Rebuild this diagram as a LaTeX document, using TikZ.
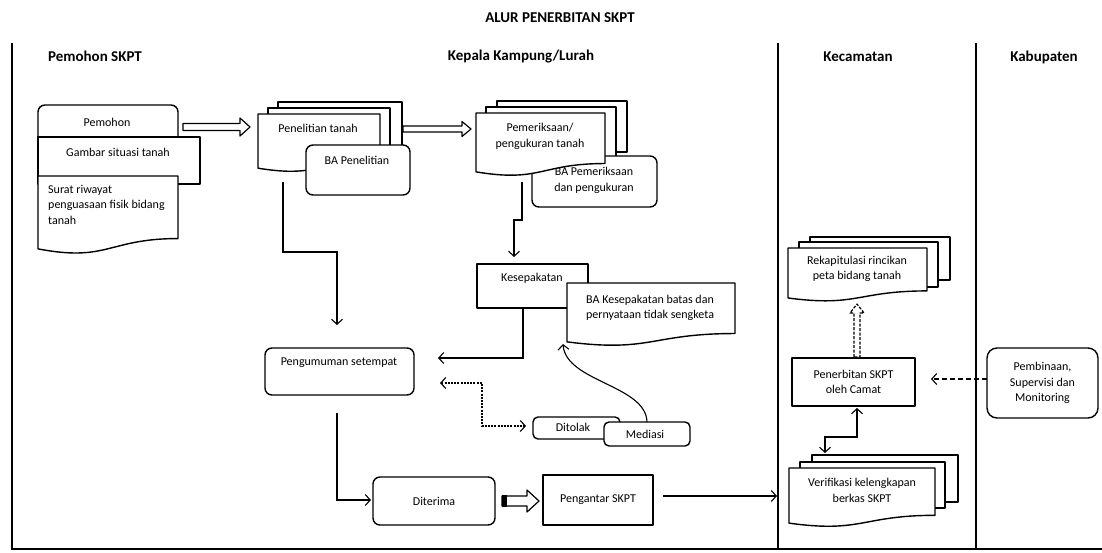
\documentclass[tikz,border=0pt]{standalone}
\usepackage{fontspec}
\setmainfont{Carlito}
\usetikzlibrary{arrows.meta,calc}
\newcommand\docshape[5]{%
  \draw[shp,#5] (#1,#2) -- (#3,#2) -- (#3,#2+0.802*#4)
    .. controls ({(#1+#3)/2},#2+0.802*#4) and ({(#1+#3)/2},#2+1.107*#4) .. (#1,#2+0.934*#4) -- cycle;}
\begin{document}
\begin{tikzpicture}[x=1pt,y=-1pt,
  every node/.style={font=\fontsize{12}{15.5}\selectfont, inner sep=0pt, align=center},
  hdr/.style={font=\fontsize{15}{18}\selectfont\bfseries},
  shp/.style={draw, line width=1.4pt, fill=white, line join=round},
  rbox/.style={shp, rounded corners=7pt},
  sbox/.style={shp},
  lane/.style={line width=1.3pt},
  conn/.style={line width=1.1pt, -{Straight Barb[length=5pt,width=11pt]}},
  bconn/.style={line width=1.1pt, {Straight Barb[length=5pt,width=11pt]}-{Straight Barb[length=5pt,width=11pt]}},
  blockR/.style args={#1/#2/#3}{to path={let \p1=(\tikztostart),\p2=(\tikztotarget) in
     (\x1,\y1+#1) -- (\x2-#3,\y1+#1) -- (\x2-#3,\y1+#2) -- (\x2,\y1) -- (\x2-#3,\y1-#2) -- (\x2-#3,\y1-#1) -- (\x1,\y1-#1) -- cycle}},
  blockU/.style args={#1/#2/#3}{to path={let \p1=(\tikztostart),\p2=(\tikztotarget) in
     (\x1-#1,\y1) -- (\x1-#1,\y2-#3) -- (\x1-#2,\y2-#3) -- (\x1,\y2) -- (\x1+#2,\y2-#3) -- (\x1+#1,\y2-#3) -- (\x1+#1,\y1) -- cycle}},
]
\useasboundingbox[fill=white] (0,0) rectangle (1102,552);

% frame and lanes
\draw[lane] (12,43) -- (12,549) -- (1102,549);
\draw[lane] (778,43) -- (778,549);
\draw[lane] (976,43) -- (976,549);

% titles
\node[hdr] (title) at (560,18) {ALUR PENERBITAN SKPT};
\node[hdr] (h1) at (95,56) {Pemohon SKPT};
\node[hdr] (h2) at (521,57) {Kepala Kampung/Lurah};
\node[hdr] (h3) at (858,57) {Kecamatan};
\node[hdr] (h4) at (1044,57) {Kabupaten};

% ---- Pemohon group
\node[rbox, minimum width=140pt, minimum height=71pt] (pemohonbox) at (108,140.5) {};
\node (pemohon) at (107,122) {Pemohon};
\node[sbox, minimum width=162pt, minimum height=47pt] (gambarbox) at (119,160.5) {};
\node (gambar) at (118,152) {Gambar situasi tanah};
\docshape{38}{176}{178}{78}{}
\node[anchor=north west, align=left] (surat) at (48,185) {Surat riwayat\\penguasaan fisik bidang\\tanah};

% ---- Penelitian
\draw[shp] (278,102) rectangle (402,158);
\draw[shp] (268,108) rectangle (390,163);
\docshape{258}{114}{380}{58}{}
\node (penelitian) at (318,128) {Penelitian tanah};
\node[rbox, minimum width=104pt, minimum height=50pt] (bapenbox) at (358,170) {};
\node (bapenelitian) at (357,160) {BA Penelitian};

% ---- Pemeriksaan
\draw[shp] (497,101) rectangle (627,152);
\draw[shp] (486,107) rectangle (616,158);
\node[rbox, minimum width=125pt, minimum height=51pt] (bapembox) at (594.5,181.5) {};
\node (bapemeriksaan) at (594,180.5) {BA Pemeriksaan\\dan pengukuran};
\docshape{476}{113}{605}{63}{}
\node (pemeriksaan) at (540,136.5) {Pemeriksaan/\\pengukuran tanah};

% ---- Kesepakatan
\node[sbox, minimum width=111pt, minimum height=44pt] (kesbox) at (532.5,286) {};
\node (kesepakatan) at (532,278) {Kesepakatan};
\docshape{567}{283}{735}{63}{}
\node (bakes) at (650,308) {BA Kesepakatan batas dan\\pernyataan tidak sengketa};

% ---- Pengumuman
\node[rbox, minimum width=149pt, minimum height=47pt] (pengbox) at (339.5,371.5) {};
\node (pengumuman) at (339,363) {Pengumuman setempat};

% ---- Ditolak / Mediasi
\node[rbox, rounded corners=5pt, minimum width=87pt, minimum height=22pt] (ditolakbox) at (576.5,428) {};
\node (ditolak) at (573,427) {Ditolak};
\node[rbox, rounded corners=5pt, minimum width=86pt, minimum height=24pt] (mediasibox) at (647,434) {};
\node (mediasi) at (645,434) {Mediasi};

% ---- Diterima / Pengantar
\node[rbox, minimum width=122pt, minimum height=48pt] (diterima) at (434,501) {Diterima};
\node[sbox, minimum width=110pt, minimum height=50pt] (pengantar) at (598,500) {Pengantar SKPT};

% ---- Kecamatan
\draw[shp] (810,237) rectangle (950,280);
\draw[shp] (799,242) rectangle (938,287);
\docshape{788}{248}{927}{53.5}{}
\node (rekap) at (857,269) {Rekapitulasi rincikan\\peta bidang tanah};

\node[sbox, minimum width=123pt, minimum height=48pt] (penerbitan) at (853.5,382) {Penerbitan SKPT\\oleh Camat};

\draw[shp] (812,455) rectangle (958,502);
\draw[shp] (800,462) rectangle (945,508);
\docshape{789}{468}{935}{59}{}
\node (verifikasi) at (862,490.5) {Verifikasi kelengkapan\\berkas SKPT};

% ---- Kabupaten
\node[rbox, rounded corners=10pt, minimum width=111pt, minimum height=70pt] (pembinaan) at (1042.5,383) {Pembinaan,\\Supervisi dan\\Monitoring};

% ---- connector coordinates
\coordinate (a1) at (183,127);  \coordinate (a2) at (250,127);
\coordinate (b1) at (403,129);  \coordinate (b2) at (471,129);
\coordinate (penB) at (283,182); \coordinate (penC) at (337,252); \coordinate (penE) at (337,325);
\coordinate (pmB) at (522,182); \coordinate (pmC) at (522,220); \coordinate (pmD) at (514,220); \coordinate (pmE) at (514,257);
\coordinate (ksB) at (523,308); \coordinate (ksC) at (523,358); \coordinate (ksE) at (438,358);
\coordinate (dtA) at (440,383); \coordinate (dtB) at (482,383); \coordinate (dtC) at (482,426); \coordinate (dtE) at (526,426);
\coordinate (mdA) at (647,422); \coordinate (mdE) at (563,344);
\coordinate (pgB) at (337,413); \coordinate (pgC) at (337,500); \coordinate (pgE) at (371,500);
\coordinate (c1) at (502,501); \coordinate (c2) at (539,501);
\coordinate (ptA) at (663,496); \coordinate (ptE) at (777,496);
\coordinate (veA) at (857,408); \coordinate (veB) at (857,437); \coordinate (veC) at (825,437); \coordinate (veE) at (825,453);
\coordinate (rkA) at (857,357); \coordinate (rkE) at (857,304);
\coordinate (pbA) at (987,379); \coordinate (pbE) at (931,379);

% ---- connectors
\draw[shp, line width=1.2pt, blockR={3.5pt/9pt/10pt}] (a1) to (a2);
\draw[shp, line width=1.2pt, blockR={3pt/7.5pt/9pt}] (b1) to (b2);
\draw[conn] (penB) |- (penC) -- (penE);
\draw[conn] (pmB) -- (pmC) -- (pmD) -- (pmE);
\draw[conn] (ksB) -- (ksC) -- (ksE);
\draw[bconn, dash pattern=on 2pt off 1.2pt] (dtA) -- (dtB) -- (dtC) -- (dtE);
\draw[conn] (mdA) .. controls (646,385) and (566,382) .. (mdE);
\draw[conn] (pgB) -- (pgC) -- (pgE);
\draw[shp, line width=1.2pt, blockR={5pt/11pt/12pt}] (c1) to (c2);
\fill ($(c1)+(0,-6)$) rectangle ($(c1)+(5,6)$);
\draw[conn] (ptA) -- (ptE);
\draw[bconn] (veA) -- (veB) -- (veC) -- (veE);
\draw[shp, line width=1.2pt, dash pattern=on 3pt off 1.5pt, blockU={3pt/7pt/9pt}] (rkA) to (rkE);
\draw[conn, dash pattern=on 5pt off 3pt] (pbA) -- (pbE);
\end{tikzpicture}
\end{document}
